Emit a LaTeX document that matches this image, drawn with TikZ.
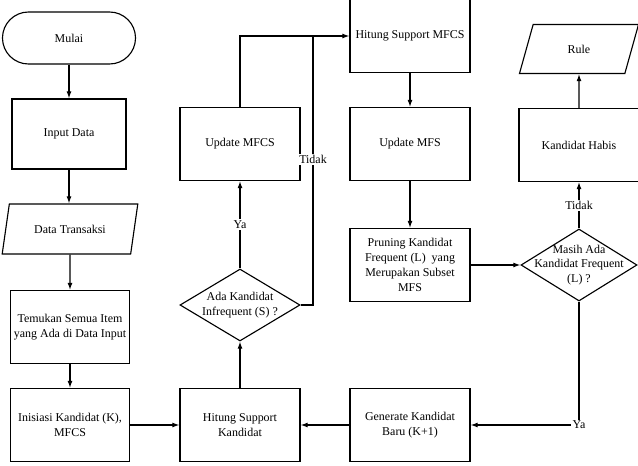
\documentclass[tikz,border=0pt]{standalone}
\usepackage{fontspec}
\setmainfont{Liberation Serif}
\usetikzlibrary{shapes.geometric,arrows.meta}
\begin{document}
\begin{tikzpicture}[
x=0.025cm, y=-0.025cm,
every node/.style={
    font=\fontsize{8.5}{10.5}\selectfont,
    align=center
},
proses/.style={rectangle, draw, thick, minimum width=3cm, minimum height=1.825cm, inner sep=1pt},
terminal/.style={rectangle, rounded corners=0.65cm, draw, thick, minimum width=3.325cm, minimum height=1.3cm},
data/.style={trapezium, trapezium stretches=true, trapezium left angle=75, trapezium right angle=105, draw, thick, minimum width=3.4cm, minimum height=1.25cm},
keputusan/.style={diamond, draw, thick, minimum width=3cm, minimum height=1.8cm, inner sep=0pt},
ket/.style={fill=white, inner sep=1pt},
>={Latex[length=5pt,width=3.5pt]}
]
\useasboundingbox (0,0) rectangle (638,466);

%---------------- Kolom kiri ----------------
\node[terminal] (mulai) at (69,38) {Mulai};
\node[proses, minimum width=2.85cm, minimum height=1.75cm] (input) at (69,134) {Input Data};
\node[data] (transaksi) at (70,229) {Data Transaksi};
\node[proses, minimum width=2.975cm] (temukan) at (70,327) {Temukan Semua Item\\yang Ada di Data Input};
\node[proses, minimum width=2.975cm] (inisiasi) at (70,425) {Inisiasi Kandidat (K),\\MFCS};

\draw[->,thick] (mulai) -- (input);
\draw[->,thick] (input) -- (input |- transaksi.north);
\draw[->,thick] (transaksi) -- (temukan);
\draw[->,thick] (temukan) -- (inisiasi);

%---------------- Kolom tengah ----------------
\node[proses] (hitungK) at (240,425) {Hitung Support\\Kandidat};
\node[keputusan, label={center:Ada Kandidat\\Infrequent (S) ?}] (adaS) at (240,305) {};
\node[proses] (updMFCS) at (240,144) {Update MFCS};
\coordinate (tidakS) at (313,36);

\draw[->,thick] (inisiasi) -- (hitungK);
\draw[->,thick] (hitungK) -- (adaS);
\draw[->,thick] (adaS) -- node[ket] {Ya} (updMFCS);
\draw[thick] (adaS.east) -| node[ket, pos=0.77] {Tidak} (tidakS);

%---------------- Kolom MFS ----------------
\node[proses] (hitungMFCS) at (410,36) {Hitung Support MFCS};
\node[proses] (updMFS) at (410,144) {Update MFS};
\node[proses] (pruning) at (410,265) {Pruning Kandidat\\Frequent (L)\ \ yang\\Merupakan Subset\\MFS};
\node[proses] (generate) at (410,425) {Generate Kandidat\\Baru (K+1)};

\draw[->,thick] (updMFCS.north) |- (hitungMFCS.west);
\draw[->,thick] (hitungMFCS) -- (updMFS);
\draw[->,thick] (updMFS) -- (pruning);
\draw[->,thick] (generate) -- (hitungK);

%---------------- Kolom kanan ----------------
\node[keputusan, minimum width=2.9cm, label={center:Masih Ada\\Kandidat Frequent\\(L) ?}] (masih) at (579,265) {};
\node[proses] (habis) at (579,145) {Kandidat Habis};
\node[data, minimum width=2.975cm, minimum height=1.225cm] (rule) at (579,49) {Rule};

\draw[->,thick] (pruning) -- (masih);
\draw[->,thick] (masih) -- node[ket] {Tidak} (habis);
\draw[->,thick] (habis) -- (rule);
\draw[->,thick] (masih.south) |- node[ket] {Ya} (generate.east);

\end{tikzpicture}
\end{document}
